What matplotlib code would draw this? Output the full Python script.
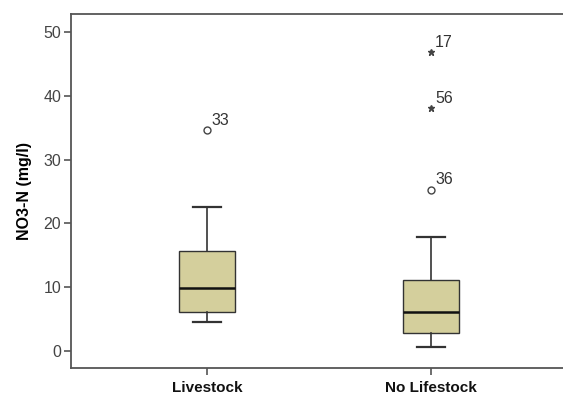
import numpy as np
import matplotlib
matplotlib.use("Agg")
import matplotlib.pyplot as plt

plt.rcParams['font.family'] = ['Liberation Sans', 'DejaVu Sans']

groups = ["Livestock", "No Lifestock"]

# five-number summaries per group: whisker low, q1, median, q3, whisker high
whislo = [4.6, 0.6]
q1 = [6.05, 2.9]
med = [9.8, 6.1]
q3 = [15.7, 11.1]
whishi = [22.6, 17.9]

# outliers (circles) and extremes (stars) with case numbers
out_group = [0, 1]
out_val = [34.6, 25.3]
out_case = ["33", "36"]
ext_group = [1, 1]
ext_val = [46.8, 38.0]
ext_case = ["17", "56"]

pos = [1, 2]
stats = []
for i in range(len(groups)):
    stats.append(dict(whislo=whislo[i], q1=q1[i], med=med[i], q3=q3[i],
                      whishi=whishi[i], fliers=[], label=groups[i]))

fig = plt.figure(figsize=(5.63, 4.0), dpi=100)
ax = fig.add_axes([71/563, 32/400, 492/563, 354/400])

edge = "#333333"
ax.bxp(stats, positions=pos, widths=0.25, patch_artist=True, showfliers=False,
       boxprops=dict(facecolor="#d4cf9c", edgecolor=edge, linewidth=1.0),
       medianprops=dict(color="#111111", linewidth=1.8),
       whiskerprops=dict(color=edge, linewidth=1.2),
       capprops=dict(color=edge, linewidth=1.6), capwidths=0.125)

xo = [pos[g] for g in out_group]
ax.plot(xo, out_val, "o", ms=5, mfc="white", mec="#444444", mew=1.0)
for x, v, c in zip(xo, out_val, out_case):
    ax.annotate(c, (x, v), xytext=(3, 4), textcoords="offset points",
                fontsize=11.5, color="#333333")

xe = [pos[g] for g in ext_group]
ax.plot(xe, ext_val, "*", ms=5, color="#444444")
for x, v, c in zip(xe, ext_val, ext_case):
    ax.annotate(c, (x, v), xytext=(3, 4), textcoords="offset points",
                fontsize=11.5, color="#333333")

ax.set_xlim(0.393, 2.589)
ax.set_ylim(-2.66, 52.8)
ax.set_yticks([0, 10, 20, 30, 40, 50])
ax.set_xticks(pos)
ax.set_xticklabels(groups, fontsize=11, fontweight="bold", color="#111111")
ax.tick_params(axis="y", labelsize=11.5, labelcolor="#444444", length=5,
               width=1.2, color="#555555", pad=2)
ax.tick_params(axis="x", length=5, width=1.2, color="#555555", pad=4)
ax.set_ylabel("NO3-N (mg/l)", fontsize=11.5, fontweight="bold", labelpad=8)

for s in ["left", "bottom", "top"]:
    ax.spines[s].set_color("#555555")
    ax.spines[s].set_linewidth(1.3)
ax.spines["right"].set_visible(False)

fig.savefig("out.png", dpi=100)
